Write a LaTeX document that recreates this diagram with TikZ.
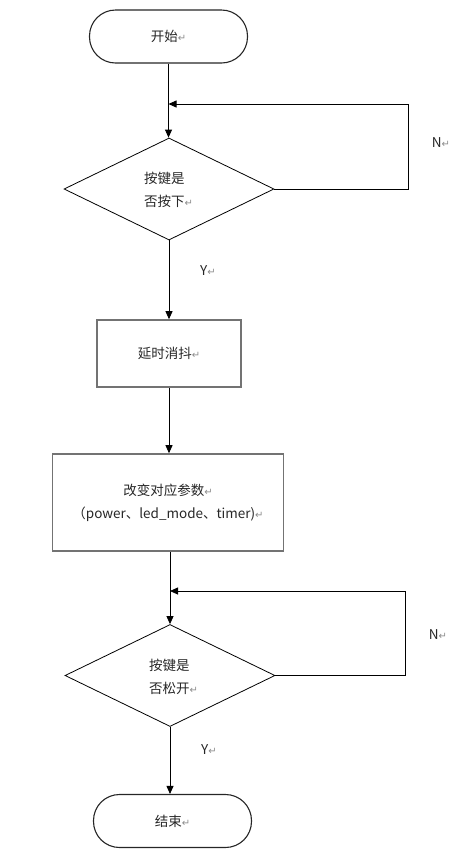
\documentclass[tikz,border=0pt]{standalone}
\usepackage{fontspec}
\setmainfont{Noto Sans CJK SC}
\newfontfamily\symfont{DejaVu Sans}
\usetikzlibrary{arrows.meta,shapes.geometric}
\newcommand{\pmk}{{\symfont\color{black!45}\fontsize{10}{10}\selectfont ↵}}
\begin{document}
\begin{tikzpicture}[x=1pt,y=-1pt,
  font=\fontsize{13.5}{23}\selectfont,
  every node/.style={text=black!85},
  term/.style={draw=black!85, line width=1.1pt, rounded corners=26pt, minimum width=158pt, minimum height=53pt, inner sep=0pt},
  proc/.style={draw=black!55, line width=1.6pt, inner sep=0pt, align=center},
  dec/.style={draw, diamond, line width=0.8pt, inner sep=0pt, minimum width=210pt, minimum height=102pt},
  lbl/.style={align=left, anchor=west, inner sep=0pt},
  arr/.style={-{Triangle[length=8pt,width=7pt]}, line width=0.8pt},
  ln/.style={line width=0.8pt}]
\useasboundingbox (0,0) rectangle (457,863);

\node[term] (start) at (168.5,36.5) {开始\pmk};
\node[dec] (d1) at (169,189) {};
\node[lbl] (d1t) at (144,190) {按键是\\否按下\pmk};
\node[proc, minimum width=144pt, minimum height=67pt] (p1) at (169,353.5) {延时消抖\pmk};
\node[proc, minimum width=231pt, minimum height=97pt] (p2) at (168,502.5) {改变对应参数\pmk\\（power、led\_mode、timer)\pmk};
\node[dec] (d2) at (170,675.5) {};
\node[lbl] (d2t) at (149,677) {按键是\\否松开\pmk};
\node[term] (end) at (172.5,821) {结束\pmk};

\node (n1) at (441,143) {N\pmk};
\node (y1) at (208,271) {Y\pmk};
\node (n2) at (438,635) {N\pmk};
\node (y2) at (209,750) {Y\pmk};

\coordinate (c1) at (408,104);
\coordinate (c2) at (405,591);

\draw[arr] (start.south) -- (start.south |- d1.north);
\draw[arr] (d1.east) -| (c1) -- (start.south |- c1);
\draw[arr] (d1.south) -- (d1.south |- p1.north);
\draw[arr] (p1.south) -- (p1.south |- p2.north);
\draw[arr] (p2.south -| d2.north) -- (d2.north);
\draw[arr] (d2.east) -| (c2) -- (d2.north |- c2);
\draw[arr] (d2.south) -- (d2.south |- end.north);
\end{tikzpicture}
\end{document}
